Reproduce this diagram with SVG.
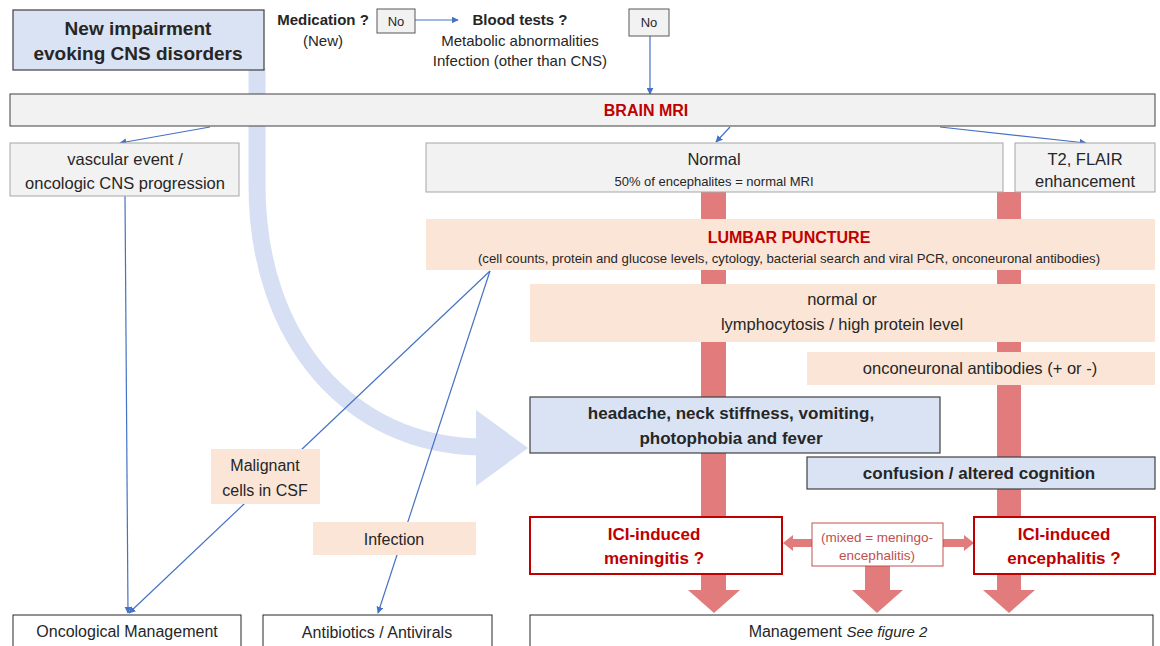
<svg xmlns="http://www.w3.org/2000/svg" width="1160" height="646" viewBox="0 0 1160 646">
<defs>
<marker id="ba" viewBox="0 0 10 10" refX="9" refY="5" markerWidth="7" markerHeight="7" orient="auto" markerUnits="userSpaceOnUse"><path d="M0,0 L10,5 L0,10 z" fill="#4472c4"/></marker>
<style>
text{font-family:"Liberation Sans",Arial,sans-serif;fill:#262626;text-anchor:middle}
.b{font-weight:bold}
.red{fill:#c00000}
.gray{fill:#f2f2f2;stroke:#a6a6a6;stroke-width:1}
.peach{fill:#fbe5d6;stroke:none}
.blue{fill:#dae3f3;stroke:#404040;stroke-width:1.2}
.white{fill:#fff;stroke:#262626;stroke-width:1}
.ici{fill:#fff;stroke:#c00000;stroke-width:2}
.conn{stroke:#4472c4;stroke-width:1.2;fill:none;marker-end:url(#ba)}
.rb{fill:#e27b7b}
.mx{fill:#c0504d}
</style>
</defs>
<rect width="1160" height="646" fill="#fff"/>

<!-- big curved arrow -->
<g id="curve-arrow">
<path d="M257,68 L257,185 C257,340 350,445 480,447" fill="none" stroke="#d6dff3" stroke-width="17"/>
<path d="M476,410 L528,448 L476,486 z" fill="#d6dff3"/>
</g>

<!-- red flow bars -->
<g id="red-flow">
<rect class="rb" x="701" y="192" width="25" height="400"/>
<rect class="rb" x="997" y="192" width="24" height="400"/>
<path class="rb" d="M688,590 L740,590 L714,613 z"/>
<path class="rb" d="M983,590 L1035,590 L1009,613 z"/>
<rect class="rb" x="865" y="566" width="25" height="26"/>
<path class="rb" d="M852,590 L903,590 L877,613 z"/>
<path class="rb" d="M812,539 L793,539 L793,535 L783,543 L793,551 L793,547 L812,547 z"/>
<path class="rb" d="M943,539 L964,539 L964,535 L974,543 L964,551 L964,547 L943,547 z"/>
</g>

<g id="connectors">
<line class="conn" x1="415" y1="20" x2="458" y2="20"/>
<line class="conn" x1="650" y1="36" x2="650" y2="94"/>
<line class="conn" x1="210" y1="127" x2="120" y2="143"/>
<line class="conn" x1="730" y1="127" x2="716" y2="142"/>
<line class="conn" x1="940" y1="127" x2="1086" y2="143"/>
<line class="conn" x1="125" y1="196" x2="128" y2="613"/>
<line class="conn" x1="490" y1="271" x2="129" y2="613"/>
<line class="conn" x1="490" y1="271" x2="378" y2="613"/>
</g>

<g id="start">
<rect class="blue" x="13" y="10" width="251" height="60"/>
<text class="b" x="138" y="35" font-size="19">New impairment</text>
<text class="b" x="138" y="60" font-size="19">evoking CNS disorders</text>
</g>

<g id="medication">
<text class="b" x="323" y="25" font-size="15">Medication ?</text>
<text x="323" y="46" font-size="15">(New)</text>
</g>
<g id="no1">
<rect x="377" y="9" width="38" height="24" fill="#f2f2f2" stroke="#595959"/>
<text x="396" y="26" font-size="13">No</text>
</g>
<g id="blood">
<text class="b" x="520" y="25" font-size="15">Blood tests  ?</text>
<text x="520" y="46" font-size="15">Metabolic abnormalities</text>
<text x="520" y="66" font-size="15">Infection (other than CNS)</text>
</g>
<g id="no2">
<rect x="629" y="9" width="40" height="27" fill="#f2f2f2" stroke="#595959"/>
<text x="649" y="27" font-size="13">No</text>
</g>

<g id="mri">
<rect x="10" y="94" width="1145" height="32" fill="#f2f2f2" stroke="#404040"/>
<text class="b red" x="646" y="116" font-size="16">BRAIN MRI</text>
</g>

<g id="vascular">
<rect class="gray" x="10" y="143" width="229" height="53"/>
<text x="125" y="165" font-size="16.5">vascular event /</text>
<text x="125" y="189" font-size="16.5">oncologic CNS progression</text>
</g>

<g id="normal">
<rect class="gray" x="426" y="143" width="577" height="49"/>
<text x="714" y="165" font-size="16.5">Normal</text>
<text x="714" y="186" font-size="13">50% of encephalites = normal MRI</text>
</g>

<g id="t2">
<rect class="gray" x="1015" y="143" width="140" height="49"/>
<text x="1085" y="165" font-size="16.5">T2, FLAIR</text>
<text x="1085" y="187" font-size="16.5">enhancement</text>
</g>

<g id="lp">
<rect class="peach" x="426" y="219" width="729" height="51"/>
<text class="b red" x="789" y="243" font-size="16">LUMBAR PUNCTURE</text>
<text x="789" y="263" font-size="13.2">(cell counts, protein and glucose levels, cytology, bacterial search and viral PCR, onconeuronal  antibodies)</text>
</g>

<g id="csf-result">
<rect class="peach" x="530" y="284" width="625" height="58"/>
<text x="842" y="305" font-size="16.5">normal or</text>
<text x="842" y="330" font-size="16.5">lymphocytosis / high protein level</text>
</g>

<g id="onconeuronal">
<rect class="peach" x="807" y="352" width="348" height="33"/>
<text x="980" y="374" font-size="16.5">onconeuronal  antibodies (+ or -)</text>
</g>

<g id="headache">
<rect class="blue" x="530" y="397" width="410" height="56"/>
<text class="b" x="731" y="419" font-size="17">headache, neck stiffness, vomiting,</text>
<text class="b" x="731" y="444" font-size="17">photophobia  and  fever</text>
</g>

<g id="confusion">
<rect class="blue" x="807" y="457" width="348" height="32"/>
<text class="b" x="979" y="479" font-size="17">confusion / altered cognition</text>
</g>

<g id="malignant">
<rect class="peach" x="211" y="449" width="109" height="55"/>
<text x="265" y="471" font-size="16">Malignant</text>
<text x="265" y="496" font-size="16">cells in CSF</text>
</g>

<g id="infection">
<rect class="peach" x="313" y="522" width="163" height="33"/>
<text x="394" y="545" font-size="16">Infection</text>
</g>

<g id="meningitis">
<rect class="ici" x="530" y="517" width="252" height="57"/>
<text class="b red" x="654" y="540" font-size="17">ICI-induced</text>
<text class="b red" x="654" y="564" font-size="17">meningitis  ?</text>
</g>

<g id="mixed">
<rect x="812" y="523" width="131" height="43" fill="#fff" stroke="#c0504d" stroke-width="1"/>
<text class="mx" x="877" y="542" font-size="13.5">(mixed = meningo-</text>
<text class="mx" x="877" y="560" font-size="13.5">encephalitis)</text>
</g>

<g id="encephalitis">
<rect class="ici" x="974" y="517" width="181" height="57"/>
<text class="b red" x="1064" y="540" font-size="17">ICI-induced</text>
<text class="b red" x="1064" y="564" font-size="17">encephalitis  ?</text>
</g>

<g id="oncological">
<rect class="white" x="13" y="615" width="228" height="40"/>
<text x="127" y="637" font-size="16">Oncological Management</text>
</g>

<g id="antibiotics">
<rect class="white" x="263" y="615" width="229" height="40"/>
<text x="377" y="638" font-size="16">Antibiotics / Antivirals</text>
</g>

<g id="management">
<rect class="white" x="530" y="615" width="623" height="40"/>
<text x="838" y="637" font-size="16">Management <tspan font-style="italic" font-size="15">See figure 2</tspan></text>
</g>
</svg>
